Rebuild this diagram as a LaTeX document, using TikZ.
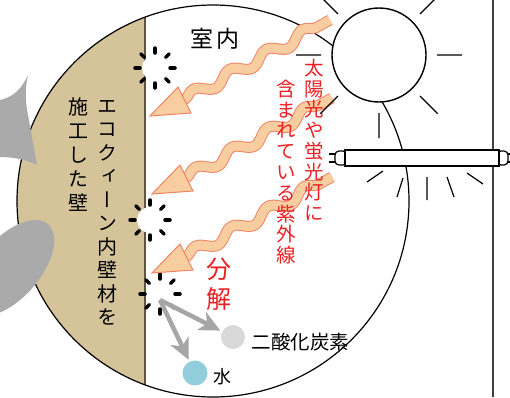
\documentclass[tikz,border=0pt]{standalone}
\usepackage{fontspec}
\setmainfont{Noto Sans CJK JP}
\newfontfamily\tatefont[RawFeature=+vert]{Noto Sans CJK JP}
\usetikzlibrary{decorations.pathmorphing,arrows.meta,positioning}
\definecolor{wallc}{RGB}{213,196,154}
\definecolor{walll}{RGB}{96,84,64}
\definecolor{rayf}{RGB}{248,206,160}
\definecolor{rayd}{RGB}{240,130,100}
\definecolor{bgrey}{RGB}{170,170,170}
\definecolor{molg}{RGB}{166,166,166}
\definecolor{co2c}{RGB}{216,216,216}
\definecolor{h2oc}{RGB}{146,205,220}
\definecolor{uvred}{RGB}{235,32,36}
\tikzset{
  tick/.style={line width=3.5pt,line cap=round},
  hole/.pic={
    \fill[white] (0,0) circle (13);
    \foreach \a in {0,45,...,315}
      \draw[tick] (\a:15) -- (\a:20);
  },
  uvwave/.style={decorate,decoration={snake,amplitude=5pt,segment length=41.6pt}},
  column/.style={align=center,inner sep=0pt},
  molarrow/.style={draw=molg,line width=4.5pt,-{Stealth[length=21pt,width=20pt,inset=6pt]},shorten >=2pt},
  dot/.style={circle,inner sep=0pt,minimum size=24pt}
}

\begin{document}
\begin{tikzpicture}[x=1pt,y=-1pt]
  \useasboundingbox (0,0) rectangle (510,397);

  % wall inside the lens
  \begin{scope}
    \clip (213,201) circle (196);
    \fill [wallc] (0,0) rectangle (145,400);
    \draw [walll,line width=1.3pt] (145,0) -- (145,400);
  \end{scope}
  \draw [line width=1.2pt] (213,201) circle (196);

  % grey shapes behind
  \fill [bgrey] (0,100)
    .. controls (14,97) and (22,88) .. (28,75)
    .. controls (25,88) and (25,100) .. (28,115)
    .. controls (31,130) and (33,145) .. (37,165)
    .. controls (25,159) and (12,157) .. (0,157) -- cycle;
  \fill [bgrey,rotate around={49:(10,268)}] (10,268) ellipse (58 and 30);

  % sun
  \draw [fill=white,line width=1.4pt] (379,55) circle (47);

  % window frame and tube lamp
  \draw [line width=2pt,black!75] (493,0) -- (493,397);
  \draw [line width=1.2pt] (329,154) -- (336,154) (329,162) -- (336,162)
    (507,154) -- (512,154) (507,162) -- (512,162);
  \draw [fill=white,line width=1.2pt,rounded corners=4pt] (335,151) rectangle (347,165);
  \draw [fill=white,line width=1.2pt,rounded corners=4pt] (497,151) rectangle (508,165);
  \draw [fill=white,line width=1.2pt] (345,150) rectangle (499,166);
  \draw [line width=1.2pt]
    (367,182) -- (383,171)
    (397,197) -- (403,178)
    (427,177) -- (427,200)
    (447,177) -- (454,197)
    (467,173) -- (483,184);

  % holes in the wall
  \pic at (155,68) {hole};
  \pic at (150,220) {hole};
  \pic at (160,294) {hole};

  % ultraviolet rays
  \foreach \dx/\dy in {0/0,2/78,2/157} {
    \begin{scope}[shift={(\dx,\dy)}]
      \draw [rayd,line width=11pt,uvwave] (184,100) -- (330,20);
      \draw [rayf,line width=9pt,uvwave] (184,100) -- (330,20);
      \filldraw [fill=rayf,draw=rayd,line width=1pt] (150,116) -- (178,87) -- (191,113) -- cycle;
    \end{scope}
  }

  \node [font=\fontsize{23}{23}\selectfont] (room) at (215,39) {室\hspace{3pt}内};
  \node [column,font=\tatefont\fontsize{20}{23.5}\selectfont] (wallA) at (107,213)
    {エ\\コ\\ク\\ィ\\ー\\ン\\内\\壁\\材\\を};
  \node [column,font=\tatefont\fontsize{20}{24}\selectfont] (wallB) at (78,155)
    {施\\工\\し\\た\\壁};
  \node [column,text=uvred,font=\tatefont\fontsize{19.5}{20.7}\selectfont] (uvA) at (314,140)
    {太\\陽\\光\\や\\蛍\\光\\灯\\に};
  \node [column,text=uvred,font=\tatefont\fontsize{19.5}{20.8}\selectfont] (uvB) at (286,172)
    {含\\ま\\れ\\て\\い\\る\\紫\\外\\線};
  \node [column,text=uvred,font=\fontsize{25}{30}\selectfont] (split) at (219,284) {分\\解};

  % sun rays
  \draw [line width=1.3pt,shift={(379,55)}]
    \foreach \a in {0,45,...,315} {(\a:58) -- (\a:83)};

  % products
  \coordinate (start) at (160,300);
  \node [dot,fill=co2c] (co2) at (233,337) {};
  \node [dot,fill=h2oc,minimum size=25pt] (h2o) at (195,373) {};
  \draw [molarrow] (start) -- (co2);
  \draw [molarrow] (start) -- (h2o);
  \node [right=3pt of co2,yshift=-5pt,font=\fontsize{19.5}{20}\selectfont] (co2txt) {二酸化炭素};
  \node [right=2pt of h2o,yshift=-4pt,font=\fontsize{18}{20}\selectfont] (h2otxt) {水};
\end{tikzpicture}
\end{document}
